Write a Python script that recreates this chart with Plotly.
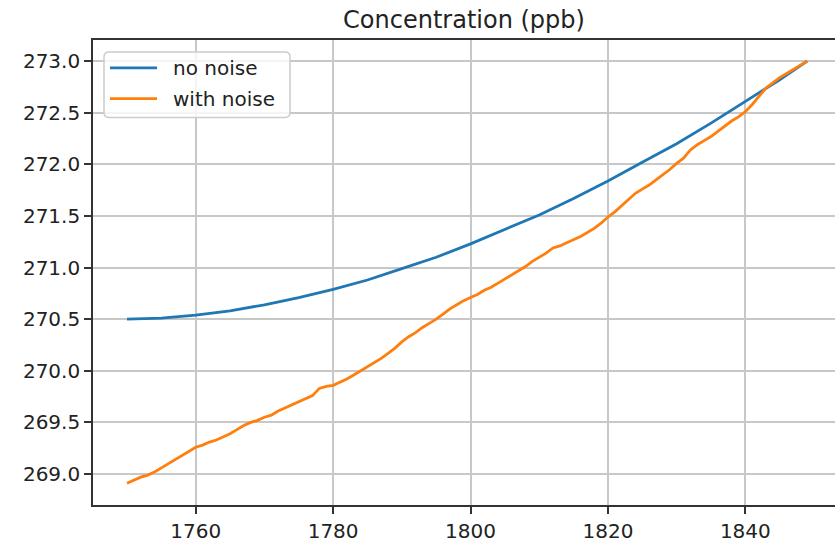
import plotly.graph_objects as go

# ---- data ----
years_smooth = [1750, 1755, 1760, 1765, 1770, 1775, 1780, 1785, 1790, 1795,
                1800, 1805, 1810, 1815, 1820, 1825, 1830, 1835, 1840, 1845, 1849]
no_noise = [270.50, 270.51, 270.54, 270.58, 270.64, 270.71, 270.79, 270.88, 270.99, 271.10,
            271.23, 271.37, 271.51, 271.67, 271.84, 272.02, 272.20, 272.40, 272.61, 272.82, 273.00]

years = list(range(1750, 1850))
with_noise = [
    268.91, 268.94, 268.97, 268.99, 269.02, 269.06, 269.10, 269.14, 269.18, 269.22,
    269.26, 269.28, 269.31, 269.33, 269.36, 269.39, 269.43, 269.47, 269.50, 269.52,
    269.55, 269.57, 269.61, 269.64, 269.67, 269.70, 269.73, 269.76, 269.83, 269.85,
    269.86, 269.89, 269.92, 269.96, 270.00, 270.04, 270.08, 270.12, 270.17, 270.22,
    270.28, 270.33, 270.37, 270.42, 270.46, 270.50, 270.55, 270.60, 270.64, 270.68,
    270.71, 270.74, 270.78, 270.81, 270.85, 270.89, 270.93, 270.97, 271.01, 271.06,
    271.10, 271.14, 271.19, 271.21, 271.24, 271.27, 271.30, 271.34, 271.38, 271.43,
    271.49, 271.54, 271.60, 271.66, 271.72, 271.76, 271.80, 271.85, 271.90, 271.95,
    272.01, 272.06, 272.14, 272.19, 272.23, 272.27, 272.32, 272.37, 272.42, 272.46,
    272.51, 272.58, 272.66, 272.74, 272.79, 272.84, 272.88, 272.92, 272.96, 273.00,
]

series_names = ["no noise", "with noise"]
x_ticks = [1760, 1780, 1800, 1820, 1840]
y_ticks = [269.0, 269.5, 270.0, 270.5, 271.0, 271.5, 272.0, 272.5, 273.0]
title_text = "Concentration (ppb)"

BLUE = "#1f77b4"
ORANGE = "#ff7f0e"
TEXT = "#222222"
SPINE = "#333333"
GRID = "#c8c8c8"
FONT = "DejaVu Sans"

W, H = 835, 543
ML, MR, MT, MB = 93, 0, 40, 35
PW, PH = W - ML - MR, H - MT - MB


def px(xp):
    return (xp - ML) / PW


def py(yp):
    return (H - MB - yp) / PH


fig = go.Figure()
fig.add_trace(go.Scatter(x=years_smooth, y=no_noise, mode="lines", name=series_names[0],
                         line=dict(color=BLUE, width=2.8), showlegend=False))
fig.add_trace(go.Scatter(x=years, y=with_noise, mode="lines", name=series_names[1],
                         line=dict(color=ORANGE, width=2.8), showlegend=False))

# ---- legend drawn like matplotlib's (rounded box, long line samples) ----
bx0, bx1, by0, by1, r = 104, 290, 52, 118, 5
path = (f"M{px(bx0 + r)},{py(by0)} L{px(bx1 - r)},{py(by0)} "
        f"Q{px(bx1)},{py(by0)} {px(bx1)},{py(by0 + r)} "
        f"L{px(bx1)},{py(by1 - r)} Q{px(bx1)},{py(by1)} {px(bx1 - r)},{py(by1)} "
        f"L{px(bx0 + r)},{py(by1)} Q{px(bx0)},{py(by1)} {px(bx0)},{py(by1 - r)} "
        f"L{px(bx0)},{py(by0 + r)} Q{px(bx0)},{py(by0)} {px(bx0 + r)},{py(by0)} Z")
shapes = [dict(type="path", xref="paper", yref="paper", path=path,
               fillcolor="rgba(255,255,255,0.8)", line=dict(color="#cccccc", width=1.5),
               layer="above")]
annotations = []
for name, col, yy in [(series_names[0], BLUE, 68), (series_names[1], ORANGE, 99)]:
    shapes.append(dict(type="line", xref="paper", yref="paper",
                       x0=px(110), x1=px(157), y0=py(yy), y1=py(yy),
                       line=dict(color=col, width=2.8), layer="above"))
    annotations.append(dict(text=name, xref="paper", yref="paper",
                            x=px(171), y=py(yy), xanchor="left", yanchor="middle",
                            showarrow=False,
                            font=dict(family=FONT, size=20, color=TEXT)))

fig.update_layout(
    width=W, height=H,
    margin=dict(l=ML, r=MR, t=MT, b=MB),
    paper_bgcolor="white", plot_bgcolor="white",
    font=dict(family=FONT, size=20, color=TEXT),
    title=dict(text=title_text, x=0.5, xref="paper", xanchor="center",
               y=1 - 20 / H, yref="container", yanchor="middle",
               font=dict(family=FONT, size=24, color=TEXT)),
    showlegend=False,
    shapes=shapes,
    annotations=annotations,
)

fig.update_xaxes(
    range=[1745.05, 1853.05],
    tickvals=x_ticks, ticktext=[str(v) for v in x_ticks],
    showgrid=True, gridcolor=GRID, gridwidth=1.6,
    showline=True, linecolor=SPINE, linewidth=1.6, mirror=True,
    ticks="outside", ticklen=7, tickwidth=1.6, tickcolor=SPINE,
    zeroline=False, tickfont=dict(family=FONT, size=20, color=TEXT),
)
fig.update_yaxes(
    range=[268.70, 273.205],
    tickvals=y_ticks, ticktext=[f"{v:.1f}" for v in y_ticks],
    showgrid=True, gridcolor=GRID, gridwidth=1.6,
    showline=True, linecolor=SPINE, linewidth=1.6, mirror=False,
    ticks="outside", ticklen=7, tickwidth=1.6, tickcolor=SPINE,
    zeroline=False, tickfont=dict(family=FONT, size=20, color=TEXT),
)

fig.write_html("out.html")
